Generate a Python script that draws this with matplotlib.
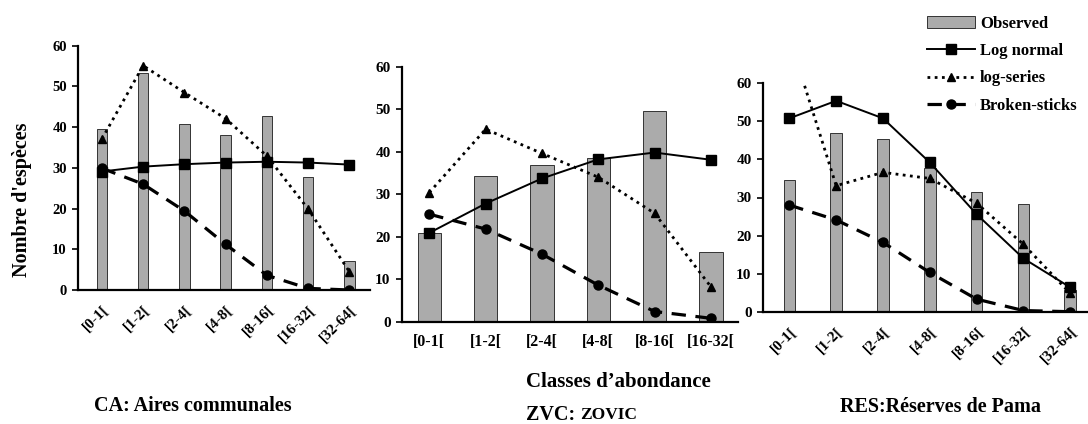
import matplotlib
matplotlib.use("Agg")
import matplotlib.pyplot as plt
import numpy as np

plt.rcParams['font.family'] = ['Liberation Serif', 'DejaVu Serif']
plt.rcParams['font.weight'] = 'bold'

# abundance classes
classes7 = ["[0-1[", "[1-2[", "[2-4[", "[4-8[", "[8-16[", "[16-32[", "[32-64["]
classes6 = ["[0-1[", "[1-2[", "[2-4[", "[4-8[", "[8-16[", "[16-32["]

# CA: Aires communales
ca_obs = [39.6, 53.2, 40.7, 38.1, 42.7, 27.8, 7.2]
ca_lognorm = [29.1, 30.3, 30.9, 31.3, 31.5, 31.3, 30.8]
ca_logser = [37.1, 55.1, 48.5, 42.1, 32.9, 19.9, 4.5]
ca_broken = [29.9, 26.0, 19.4, 11.2, 3.6, 0.4, 0.0]

# ZVC: ZOVIC
zvc_obs = [20.9, 34.4, 36.9, 38.6, 49.5, 16.5]
zvc_lognorm = [20.9, 27.8, 33.7, 38.2, 39.8, 38.1]
zvc_logser = [30.4, 45.3, 39.6, 34.0, 25.5, 8.2]
zvc_broken = [25.3, 21.8, 15.9, 8.6, 2.4, 0.8]

# RES: Reserves de Pama
res_obs = [34.6, 47.0, 45.3, 37.7, 31.5, 28.2, 5.7]
res_lognorm = [50.8, 55.4, 50.8, 39.2, 25.6, 14.0, 6.4]
res_logser = [72.0, 33.1, 36.6, 35.0, 28.5, 17.7, 4.8]
res_broken = [28.0, 24.1, 18.2, 10.3, 3.3, 0.3, 0.0]

W, H = 1088, 424
fig = plt.figure(figsize=(W / 100, H / 100), dpi=100)


def px_axes(x0, x1, y_top, y_zero):
    return fig.add_axes([x0 / W, 1 - y_zero / H, (x1 - x0) / W, (y_zero - y_top) / H])


def draw_panel(ax, labels, obs, lognorm, logser, broken, barw, xlim, rot, fs_y, fs_x):
    x = np.arange(len(labels))
    ax.bar(x, obs, width=barw, color='#ababab', edgecolor='#333333', linewidth=0.7,
           label='Observed', zorder=1)
    ax.plot(x, lognorm, color='black', lw=1.4, marker='s', ms=6.5,
            label='Log normal', zorder=3)
    ax.plot(x, logser, color='black', lw=2.0, ls=(0, (1, 1.6)), marker='^', ms=6,
            label='log-series', zorder=3)
    ax.plot(x, broken, color='black', lw=2.3, ls=(0, (4.5, 3)), marker='o', ms=6.5,
            label='Broken-sticks', zorder=3)
    ax.set_ylim(0, 60)
    ax.set_xlim(*xlim)
    ax.set_yticks(range(0, 61, 10))
    ax.set_xticks(x)
    for s in ['top', 'right']:
        ax.spines[s].set_visible(False)
    for s in ['left', 'bottom']:
        ax.spines[s].set_linewidth(1.6)
    ax.tick_params(axis='y', length=4, width=1.2, labelsize=fs_y, pad=4)
    ax.tick_params(axis='x', length=0, labelsize=fs_x, pad=9)
    if rot:
        ax.set_xticklabels(labels, rotation=45, ha='right', rotation_mode='anchor')
    else:
        ax.set_xticklabels(labels)
    for t in ax.get_xticklabels() + ax.get_yticklabels():
        t.set_fontweight('bold')


ax1 = px_axes(78, 370, 45.7, 290)
draw_panel(ax1, classes7, ca_obs, ca_lognorm, ca_logser, ca_broken, 0.255,
           (-0.58, 6.5), True, 10.5, 11)

ax2 = px_axes(401.7, 738, 66.7, 321.7)
draw_panel(ax2, classes6, zvc_obs, zvc_lognorm, zvc_logser, zvc_broken, 0.41,
           (-0.49, 5.48), False, 11, 11.5)

ax3 = px_axes(762.7, 1088, 83.3, 311.7)
draw_panel(ax3, classes7, res_obs, res_lognorm, res_logser, res_broken, 0.25,
           (-0.57, 6.38), True, 11, 11)

handles, labs = ax3.get_legend_handles_labels()
order = [3, 0, 1, 2]
fig.legend([handles[i] for i in order], [labs[i] for i in order],
           loc='upper left', bbox_to_anchor=(920 / W, 1 - 9 / H), frameon=False,
           prop={'family': 'Liberation Serif', 'weight': 'bold', 'size': 12},
           handlelength=2.9, handletextpad=0.3, labelspacing=0.68, borderaxespad=0)

fig.text(22 / W, 1 - 200 / H, "Nombre d'espèces", rotation=90, ha='center', va='center',
         fontsize=14.5, fontweight='bold')
fig.text(526 / W, 1 - 382 / H, "Classes d’abondance", ha='left', va='center',
         fontsize=15, fontweight='bold')
fig.text(193 / W, 1 - 406 / H, "CA: Aires communales", ha='center', va='center',
         fontsize=14.5, fontweight='bold')
zvc = fig.text(526 / W, 1 - 415 / H, "ZVC:", ha='left', va='center',
               fontsize=14.5, fontweight='bold')
renderer = fig.canvas.get_renderer()
bb = zvc.get_window_extent(renderer=renderer)
fig.text((bb.x1 + 5) / W, 1 - 415 / H, "ZOVIC", ha='left', va='center',
         fontsize=12.5, fontweight='bold')
fig.text(941 / W, 1 - 407 / H, "RES:Réserves de Pama", ha='center', va='center',
         fontsize=14.5, fontweight='bold')

fig.savefig("out.png", dpi=100)
